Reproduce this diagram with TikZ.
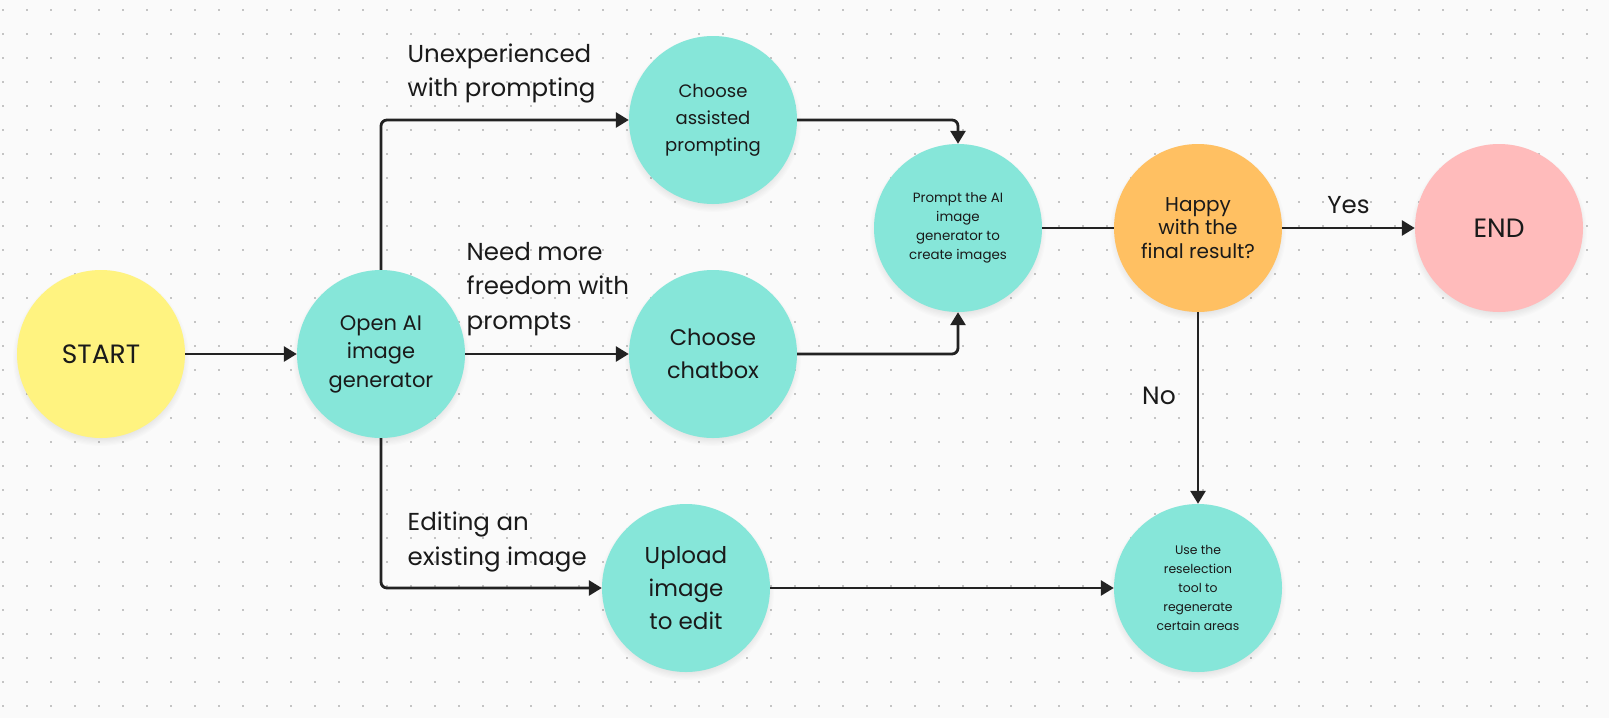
\documentclass[tikz,border=0pt]{standalone}
\usepackage{fontspec}
\setmainfont{Poppins}
\usetikzlibrary{arrows.meta}
\definecolor{bgc}{HTML}{FAFAFA}
\definecolor{dotc}{HTML}{C4C4C4}
\definecolor{ylw}{HTML}{FFF380}
\definecolor{teal}{HTML}{86E6D9}
\definecolor{orng}{HTML}{FFC062}
\definecolor{pink}{HTML}{FFBBBB}
\definecolor{ink}{HTML}{222222}
\definecolor{txt}{HTML}{1A1A1A}
\pgfdeclarelayer{bgl}
\pgfdeclarelayer{shad}
\pgfsetlayers{bgl,shad,main}
\begin{document}
\begin{tikzpicture}[x=1pt,y=-1pt,
  bubble/.style={circle, minimum size=168pt, inner sep=0pt, align=center, text=txt},
  conn/.style={draw=ink, line width=2.8pt, -{Triangle[length=13pt,width=15pt]}},
  plain/.style={draw=ink, line width=2.8pt},
  lbl/.style={inner sep=0pt, align=left, anchor=base west, text=txt,
    font=\fontsize{24.5}{34.5}\selectfont},
]
\useasboundingbox (0,0) rectangle (1609,718);
\begin{pgfonlayer}{bgl}
  \fill[bgc] (0,0) rectangle (1609,718);
  \foreach \i in {0,...,66}{
    \foreach \j in {0,...,29}{
      \fill[dotc] ({1.5+24*\i},{8.5+24*\j}) rectangle ++(2,2);
    }
  }
\end{pgfonlayer}

\node[bubble, fill=ylw, font=\fontsize{26.5}{34}\selectfont] (start) at (101,354) {START};
\node[bubble, fill=teal, font=\fontsize{21}{28.5}\selectfont] (open) at (381,354) {Open AI\\image\\generator};
\node[bubble, fill=teal, font=\fontsize{18}{27}\selectfont] (assist) at (713,120) {Choose\\assisted\\prompting};
\node[bubble, fill=teal, font=\fontsize{22.5}{33}\selectfont] (chat) at (713,354) {Choose\\chatbox};
\node[bubble, fill=teal, font=\fontsize{23}{32.7}\selectfont] (upload) at (686,588) {Upload\\image\\to edit};
\node[bubble, fill=teal, font=\fontsize{13.4}{18.8}\selectfont] (prompt) at (958,228) {Prompt the AI\\image\\generator to\\create images};
\node[bubble, fill=orng, font=\fontsize{20}{23.5}\selectfont] (happy) at (1198,228) {Happy\\with the\\final result?};
\node[bubble, fill=pink, font=\fontsize{26.5}{34}\selectfont] (endn) at (1499,228) {END};
\node[bubble, fill=teal, font=\fontsize{12.4}{19}\selectfont] (resel) at (1198,588) {Use the\\reselection\\tool to\\regenerate\\certain areas};

\begin{pgfonlayer}{shad}
  \foreach \n in {start,open,assist,chat,upload,prompt,happy,endn,resel}{
    \foreach \k in {1,...,10}{
      \fill[black, opacity=0.011] ([yshift=-4pt]\n.center) circle ({76+\k*1.2});
    }
  }
\end{pgfonlayer}

\draw[conn] (start) -- (open);
\draw[conn, rounded corners=6pt] (open.north) |- (assist.west);
\draw[conn] (open) -- (chat);
\draw[conn, rounded corners=6pt] (open.south) |- (upload.west);
\draw[conn, rounded corners=6pt] (assist.east) -| (prompt.north);
\draw[conn, rounded corners=6pt] (chat.east) -| (prompt.south);
\draw[plain] (prompt) -- (happy);
\draw[conn] (happy) -- (endn) node[midway, above=15pt, anchor=base, inner sep=0pt, text=txt, font=\fontsize{24.5}{30}\selectfont] (yes) {Yes};
\draw[conn] (happy) -- (resel);
\draw[conn] (upload) -- (resel);

\node[lbl] (l1) at (407.5,96.7) {Unexperienced\\with prompting};
\node[lbl] (l2) at (466.5,329.3) {Need more\\freedom with\\prompts};
\node[lbl] (l3) at (407.5,565) {Editing an\\existing image};
\node[inner sep=0pt, anchor=base, text=txt, font=\fontsize{25}{30}\selectfont] (no) at (1159,404) {No};
\end{tikzpicture}
\end{document}
